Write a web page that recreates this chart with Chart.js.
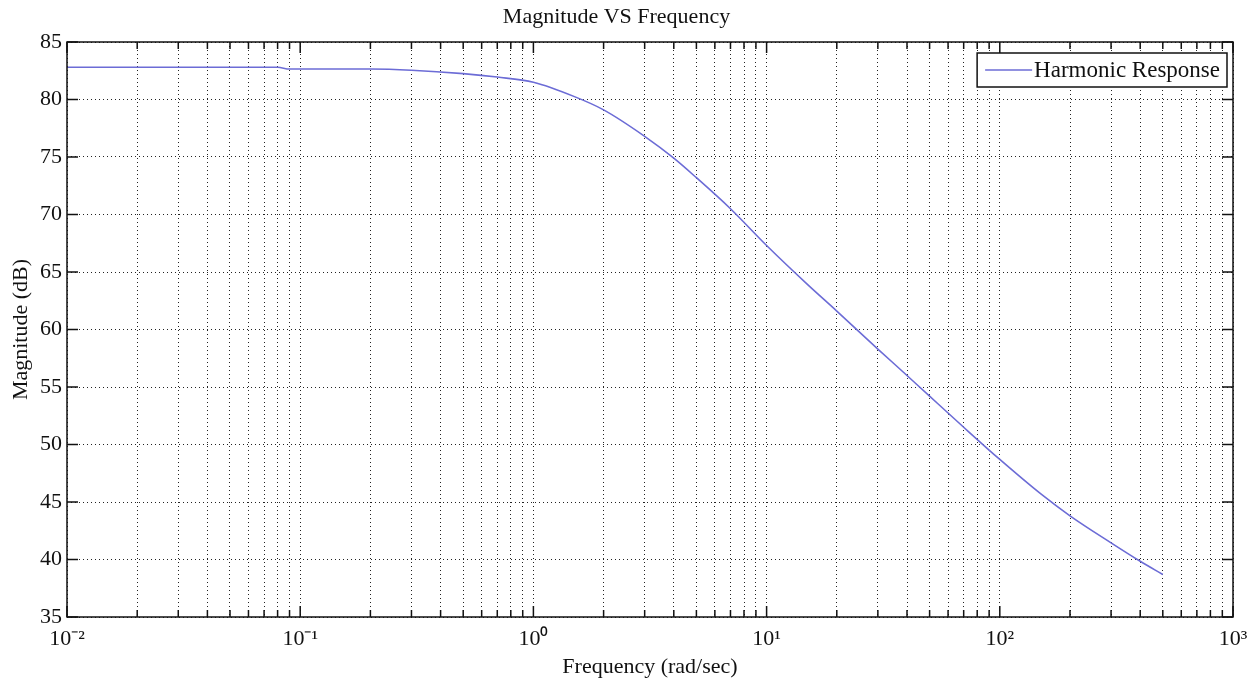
<!DOCTYPE html>
<html>
<head>
<meta charset="utf-8">
<title>Magnitude VS Frequency</title>
<script src="https://cdn.jsdelivr.net/npm/chart.js@4"></script>
<style>
  html, body { margin: 0; padding: 0; background: #fff; }
</style>
</head>
<body>
<canvas id="bode" width="1259" height="683"></canvas>
<script>
// harmonic response, frequency in rad/sec against magnitude in dB
const freqs = [0.01, 0.02, 0.05, 0.08, 0.09, 0.2, 0.3, 0.5, 0.7,
               1, 1.5, 2, 3, 4, 5, 7, 10, 15, 20,
               30, 40, 50, 70, 100, 150, 200, 300, 400, 500];
const magDb = [82.8, 82.8, 82.8, 82.8, 82.65, 82.65, 82.55, 82.25, 81.95,
               81.5, 80.25, 79.1, 76.8, 74.9, 73.2, 70.5, 67.3, 63.9, 61.6,
               58.3, 56.0, 54.2, 51.5, 48.7, 45.7, 43.8, 41.45, 39.85, 38.7];
const decades = [-2, -1, 0, 1, 2, 3];
const magTicks = [35, 40, 45, 50, 55, 60, 65, 70, 75, 80, 85];
const seriesName = 'Harmonic Response';

const lineColor = '#6c6cd6';
const serif = "'Liberation Serif', 'Times New Roman', serif";

const sup = { '-': '\u207B', '0': '\u2070', '1': '\u00B9', '2': '\u00B2', '3': '\u00B3' };
function powLabel(e) {
  return '10' + String(e).split('').map(c => sup[c]).join('');
}

// log grid: 1..9 x 10^n inside every decade, last decade only its start
const gridTicks = [];
decades.forEach((e, i) => {
  const top = i === decades.length - 1 ? 1 : 9;
  for (let m = 1; m <= top; m++) {
    gridTicks.push({ value: m * Math.pow(10, e), major: m === 1, exp: e });
  }
});

// matlab-ish box with inward ticks plus a framed legend
const boxPlugin = {
  id: 'boxPlugin',
  afterDraw(chart) {
    const { ctx, chartArea: a, scales: { x, y } } = chart;
    ctx.save();
    ctx.strokeStyle = '#111';
    ctx.lineWidth = 1.5;
    ctx.beginPath();
    x.ticks.forEach(t => {
      const px = x.getPixelForValue(t.value);
      const len = t.major ? 11 : 7;
      ctx.moveTo(px, a.bottom); ctx.lineTo(px, a.bottom - len);
      ctx.moveTo(px, a.top); ctx.lineTo(px, a.top + len);
    });
    y.ticks.forEach(t => {
      const py = y.getPixelForValue(t.value);
      ctx.moveTo(a.left, py); ctx.lineTo(a.left + 11, py);
      ctx.moveTo(a.right, py); ctx.lineTo(a.right - 11, py);
    });
    ctx.stroke();
    ctx.strokeRect(a.left, a.top, a.right - a.left, a.bottom - a.top);

    // legend
    const label = chart.data.datasets[0].label;
    ctx.font = '23px ' + serif;
    const tw = ctx.measureText(label).width;
    const lineLen = 47, padL = 8, gap = 2, padR = 7, h = 34;
    const w = padL + lineLen + gap + tw + padR;
    const lx = a.right - 6 - w, ly = a.top + 11;
    ctx.fillStyle = '#fff';
    ctx.fillRect(lx, ly, w, h);
    ctx.lineWidth = 1.5;
    ctx.strokeStyle = '#111';
    ctx.strokeRect(lx, ly, w, h);
    ctx.strokeStyle = chart.data.datasets[0].borderColor;
    ctx.lineWidth = 1.5;
    ctx.beginPath();
    ctx.moveTo(lx + padL, ly + h / 2);
    ctx.lineTo(lx + padL + lineLen, ly + h / 2);
    ctx.stroke();
    ctx.fillStyle = '#111';
    ctx.textBaseline = 'middle';
    ctx.fillText(label, lx + padL + lineLen + gap, ly + h / 2 + 1);
    ctx.restore();
  }
};

new Chart(document.getElementById('bode').getContext('2d'), {
  type: 'line',
  data: {
    datasets: [{
      label: seriesName,
      data: freqs.map((f, i) => ({ x: f, y: magDb[i] })),
      borderColor: lineColor,
      borderWidth: 1.6,
      pointRadius: 0,
      fill: false,
      cubicInterpolationMode: 'monotone'
    }]
  },
  options: {
    responsive: false,
    animation: false,
    layout: { padding: { left: 0, right: 26, top: 0, bottom: 0 } },
    plugins: {
      legend: { display: false },
      tooltip: { enabled: false },
      title: {
        display: true,
        text: 'Magnitude VS Frequency',
        color: '#111',
        font: { family: serif, size: 22, weight: 'normal', lineHeight: 1.2 },
        padding: { top: 4, bottom: 11.6 }
      }
    },
    scales: {
      x: {
        type: 'logarithmic',
        min: 0.01,
        max: 1000,
        afterBuildTicks: scale => { scale.ticks = gridTicks.map(t => ({ ...t })); },
        afterFit: scale => { scale.height = 66; },
        grid: { color: '#222', lineWidth: 1, drawTicks: false },
        border: { display: false, dash: [1, 3] },
        ticks: {
          autoSkip: false,
          maxRotation: 0,
          padding: 9,
          color: '#111',
          font: { family: serif, size: 22 },
          callback: (v, i, ticks) => ticks[i].major ? powLabel(Math.round(Math.log10(v))) : ''
        },
        title: {
          display: true,
          text: 'Frequency (rad/sec)',
          color: '#111',
          font: { family: serif, size: 22 },
          padding: { top: 0, bottom: 3 }
        }
      },
      y: {
        min: magTicks[0],
        max: magTicks[magTicks.length - 1],
        afterBuildTicks: scale => { scale.ticks = magTicks.map(v => ({ value: v })); },
        afterFit: scale => { scale.width = 67; },
        grid: { color: '#222', lineWidth: 1, drawTicks: false },
        border: { display: false, dash: [1, 3] },
        ticks: {
          padding: 5,
          color: '#111',
          font: { family: serif, size: 22 }
        },
        title: {
          display: true,
          text: 'Magnitude (dB)',
          color: '#111',
          font: { family: serif, size: 22 },
          padding: { top: 8, bottom: 0 }
        }
      }
    }
  },
  plugins: [boxPlugin]
});
</script>
</body>
</html>
